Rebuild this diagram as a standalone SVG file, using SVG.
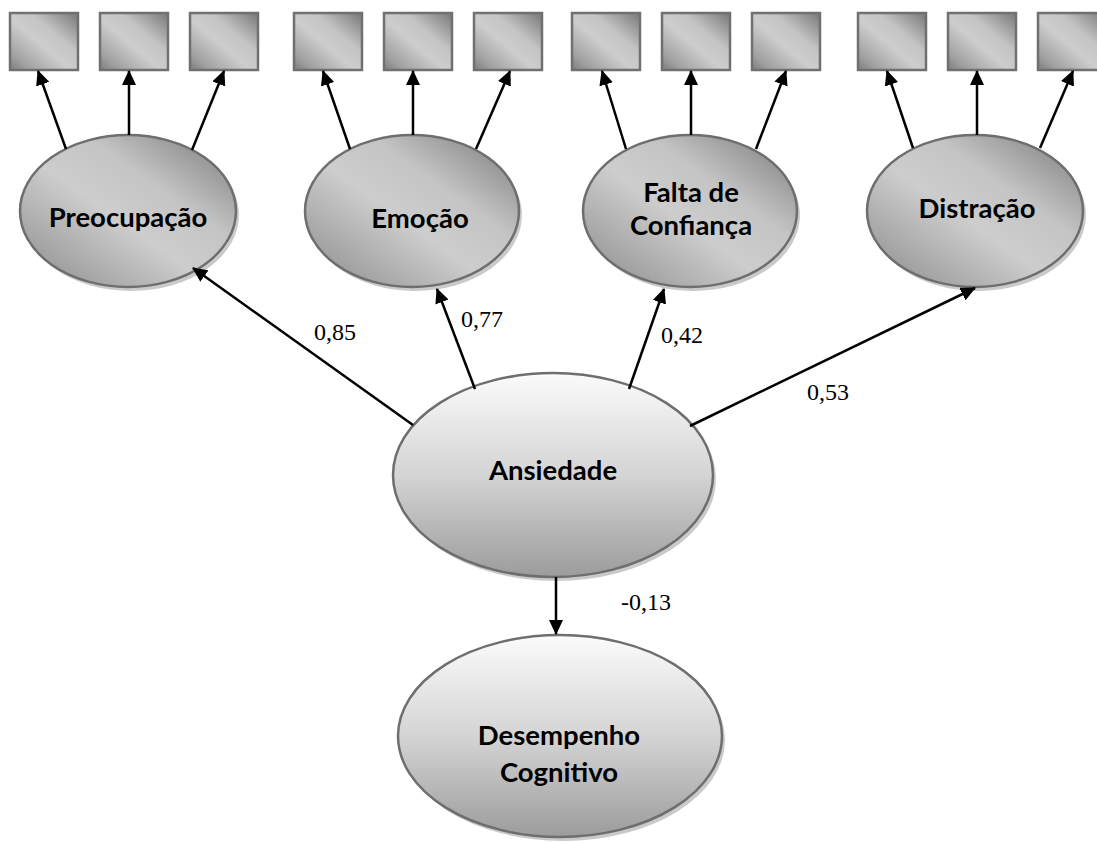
<svg xmlns="http://www.w3.org/2000/svg" width="1097" height="842" viewBox="0 0 1097 842">
<defs>
<linearGradient id="diag" x1="0" y1="1" x2="1" y2="0">
<stop offset="0" stop-color="#7c7c7c"/>
<stop offset="0.15" stop-color="#a0a0a0"/>
<stop offset="0.45" stop-color="#cdcdcd"/>
<stop offset="0.65" stop-color="#c4c4c4"/>
<stop offset="1" stop-color="#777777"/>
</linearGradient>
<linearGradient id="vert" x1="0" y1="0" x2="0" y2="1">
<stop offset="0" stop-color="#fbfbfb"/>
<stop offset="0.5" stop-color="#d4d4d4"/>
<stop offset="1" stop-color="#9c9c9c"/>
</linearGradient>
<marker id="ah" markerUnits="userSpaceOnUse" markerWidth="15" markerHeight="14" refX="14" refY="7" orient="auto">
<path d="M0,0 L15,7 L0,14 z" fill="#000"/>
</marker>
</defs>
<style>
.sq{fill:url(#diag);stroke:#707070;stroke-width:2.5}
.el{fill:url(#diag);stroke:#6e6e6e;stroke-width:2.5}
.elv{fill:url(#vert);stroke:#6e6e6e;stroke-width:2.5}
.sh{fill:#b4b4b4;opacity:0.7}
.lbl{font-family:Lato,"Liberation Sans",sans-serif;font-weight:bold;font-size:27.5px;fill:#000;text-anchor:middle}
.num{font-family:"Liberation Serif",serif;font-size:24px;fill:#000}
.cn line{stroke:#000;stroke-width:2.5;marker-end:url(#ah)}
</style>
<rect width="1097" height="842" fill="#fff"/>

<g id="indicators">
<rect class="sq" x="10" y="13" width="68" height="57"/>
<rect class="sq" x="100" y="13" width="68" height="57"/>
<rect class="sq" x="190" y="13" width="68" height="57"/>
<rect class="sq" x="294" y="13" width="68" height="57"/>
<rect class="sq" x="384" y="13" width="68" height="57"/>
<rect class="sq" x="474" y="13" width="68" height="57"/>
<rect class="sq" x="572" y="13" width="68" height="57"/>
<rect class="sq" x="662" y="13" width="68" height="57"/>
<rect class="sq" x="752" y="13" width="68" height="57"/>
<rect class="sq" x="858" y="13" width="68" height="57"/>
<rect class="sq" x="948" y="13" width="68" height="57"/>
<rect class="sq" x="1038" y="13" width="68" height="57"/>
</g>

<g id="preocupacao">
<ellipse class="sh" cx="131" cy="215" rx="108" ry="76"/>
<ellipse class="el" cx="128" cy="211" rx="108" ry="76"/>
<text class="lbl" x="128" y="227">Preocupação</text>
</g>
<g id="emocao">
<ellipse class="sh" cx="415" cy="215" rx="107" ry="76"/>
<ellipse class="el" cx="412" cy="211" rx="107" ry="76"/>
<text class="lbl" x="420" y="228">Emoção</text>
</g>
<g id="falta">
<ellipse class="sh" cx="693" cy="215" rx="107" ry="76"/>
<ellipse class="el" cx="690" cy="211" rx="107" ry="76"/>
<text class="lbl" x="691" y="202">Falta de</text>
<text class="lbl" x="691" y="235">Confiança</text>
</g>
<g id="distracao">
<ellipse class="sh" cx="978" cy="215" rx="108" ry="76"/>
<ellipse class="el" cx="975" cy="211" rx="108" ry="76"/>
<text class="lbl" x="977" y="218">Distração</text>
</g>
<g id="ansiedade">
<ellipse class="sh" cx="556" cy="479" rx="160" ry="102"/>
<ellipse class="elv" cx="553" cy="475" rx="160" ry="102"/>
<text class="lbl" x="553" y="480">Ansiedade</text>
</g>
<g id="desempenho">
<ellipse class="sh" cx="563" cy="740" rx="162" ry="101"/>
<ellipse class="elv" cx="560" cy="736" rx="162" ry="101"/>
<text class="lbl" x="559" y="745">Desempenho</text>
<text class="lbl" x="559" y="782">Cognitivo</text>
</g>

<g id="connectors" class="cn">
<line x1="66" y1="149" x2="38" y2="71"/>
<line x1="129" y1="135" x2="129" y2="71"/>
<line x1="192" y1="150" x2="224" y2="71"/>
<line x1="350" y1="149" x2="323" y2="71"/>
<line x1="413" y1="135" x2="413" y2="71"/>
<line x1="476" y1="149" x2="510" y2="71"/>
<line x1="626" y1="149" x2="602" y2="71"/>
<line x1="691" y1="135" x2="691" y2="71"/>
<line x1="756" y1="149" x2="786" y2="71"/>
<line x1="913" y1="148" x2="887" y2="71"/>
<line x1="977" y1="135" x2="977" y2="71"/>
<line x1="1040" y1="148" x2="1073" y2="71"/>
<line x1="413" y1="425" x2="193" y2="268"/>
<line x1="475" y1="389" x2="437" y2="289"/>
<line x1="629" y1="389" x2="664" y2="289"/>
<line x1="690" y1="426" x2="975" y2="288"/>
<line x1="556" y1="577" x2="556" y2="634"/>
</g>

<g id="labels">
<text class="num" x="314" y="340">0,85</text>
<text class="num" x="461" y="327">0,77</text>
<text class="num" x="661" y="343">0,42</text>
<text class="num" x="807" y="400">0,53</text>
<text class="num" x="621" y="610">-0,13</text>
</g>
</svg>
